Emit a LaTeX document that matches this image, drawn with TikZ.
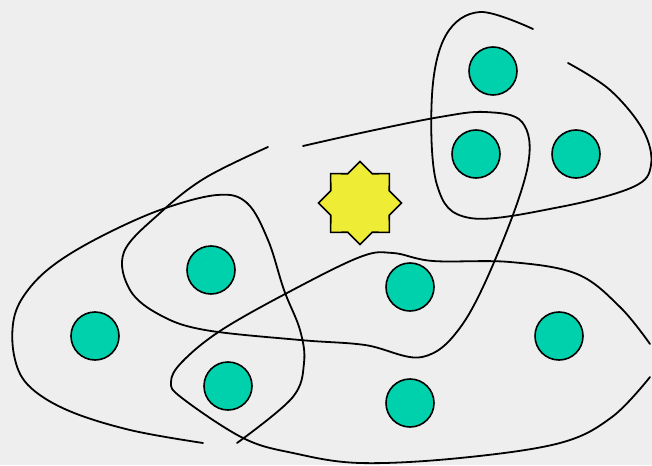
\documentclass[tikz,border=0pt]{standalone}
\usetikzlibrary{shapes.geometric}

\definecolor{paper}{HTML}{EEEEEE}
\definecolor{vertexgreen}{HTML}{00D1AD}
\definecolor{staryellow}{HTML}{EEEC35}

\begin{document}
\begin{tikzpicture}[x=1pt, y=-1pt,
    vertex/.style={circle, draw, line width=1.6pt, fill=vertexgreen, minimum size=48pt, inner sep=0pt},
    hub/.style={star, star points=8, star point ratio=1.31, draw, line width=1.6pt, fill=staryellow, minimum size=83pt, inner sep=0pt},
    hyperedge/.style={line width=1.8pt, line cap=round}]

	% Canvas
	\fill[paper] (0,0) rectangle (652,465);
	\useasboundingbox (0,0) rectangle (652,465);

	% Hyperedges
	% top right
	\draw[hyperedge] plot[smooth, tension=0.6] coordinates {(533,29) (480,12) (446,35) (432,95) (437,185) (470,218) (560,207) (633,187) (651,165) (643,130) (610,90) (568,63)};
	% middle band
	\draw[hyperedge] plot[smooth, tension=0.6] coordinates {(268,147) (205,178) (160,213) (124,252) (130,290) (160,315) (205,330) (300,340) (365,345) (422,357) (462,325) (500,248) (528,165) (522,122) (485,112) (440,117) (370,131) (303,146)};
	% left
	\draw[hyperedge] plot[smooth, tension=0.6] coordinates {(203,443) (130,430) (67,410) (28,385) (14,355) (14,318) (28,290) (55,264) (100,237) (160,210) (217,195) (247,203) (268,240) (284,290) (300,330) (304,363) (292,398) (237,443)};
	% bottom right
	\draw[hyperedge] plot[smooth, tension=0.6] coordinates {(650,344) (620,307) (577,274) (510,262) (433,261) (393,253) (360,257) (287,293) (220,331) (182,362) (171,382) (182,398) (243,438) (293,453) (360,463) (460,458) (560,443) (612,417) (650,377)};

	% Vertices
	\node[vertex] (a) at (493,71) {};
	\node[vertex] (b) at (476,154) {};
	\node[vertex] (c) at (576,154) {};
	\node[vertex] (d) at (211,270) {};
	\node[vertex] (e) at (95,336) {};
	\node[vertex] (f) at (228,386) {};
	\node[vertex] (g) at (410,287) {};
	\node[vertex] (h) at (559,336) {};
	\node[vertex] (i) at (410,403) {};

	% Star
	\node[hub] (sun) at (360,203) {};

\end{tikzpicture}
\end{document}
